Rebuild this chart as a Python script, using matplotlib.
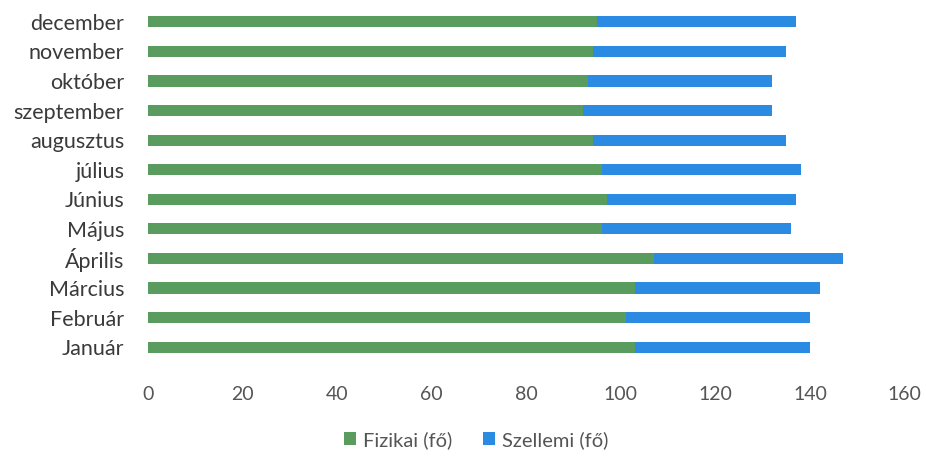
import matplotlib
matplotlib.use("Agg")
import matplotlib.pyplot as plt
import numpy as np

months = ["Január", "Február", "Március", "Április", "Május", "Június",
          "július", "augusztus", "szeptember", "október", "november", "december"]
fizikai = [103, 101, 103, 107, 96, 97, 96, 94, 92, 93, 94, 95]
szellemi = [37, 39, 39, 40, 40, 40, 42, 41, 40, 39, 41, 42]

GREEN = "#5a9c5e"
BLUE = "#2b8be2"
TEXT = "#3a3a3a"

plt.rcParams["font.family"] = ["Lato", "DejaVu Sans"]

fig = plt.figure(figsize=(9.26, 4.61), dpi=100)
ax = fig.add_axes([0.1598, 0.2148, 0.8172, 0.770])

y = np.arange(len(months))
ax.barh(y, fizikai, height=0.38, color=GREEN, label="Fizikai (fő)")
ax.barh(y, szellemi, left=fizikai, height=0.38, color=BLUE, label="Szellemi (fő)")

ax.set_xlim(0, 160)
ax.set_ylim(-0.5, len(months) - 0.5)
ax.set_xticks(np.arange(0, 161, 20))
ax.set_yticks(y, months)
for s in ax.spines.values():
    s.set_visible(False)
ax.tick_params(axis="x", length=0, pad=17, labelsize=14, labelcolor="#555555")
ax.tick_params(axis="y", length=0, pad=17, labelsize=15.5, labelcolor=TEXT)

fig.legend(loc="center", bbox_to_anchor=(476 / 926, 1 - 440 / 461), ncol=2,
           frameon=False, fontsize=14.5, handlelength=0.6, handleheight=0.6,
           handletextpad=0.35, columnspacing=1.5, labelcolor="#555555")

fig.savefig("out.png", dpi=100)
